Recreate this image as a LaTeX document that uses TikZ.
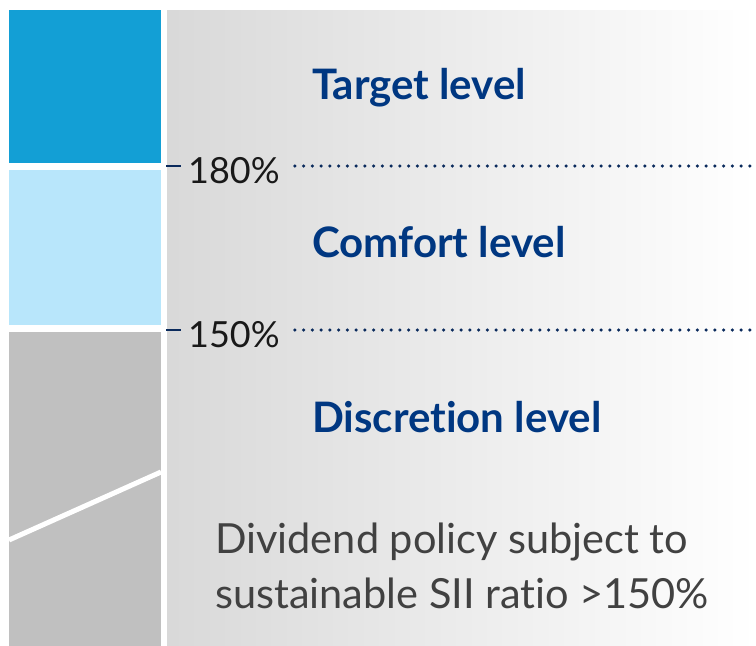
\documentclass[tikz,border=0pt]{standalone}
\usepackage{fontspec}
\setmainfont{Lato}[Ligatures=NoCommon]
\usetikzlibrary{positioning}

\definecolor{targetblue}{HTML}{139FD5}
\definecolor{comfortblue}{HTML}{B8E6FB}
\definecolor{discretiongray}{HTML}{C0C0C0}
\definecolor{levelnavy}{HTML}{003781}
\definecolor{ticknavy}{HTML}{0A2A5C}
\definecolor{bodygray}{HTML}{414141}

\tikzset{
  levelname/.style={anchor=base west,inner sep=0pt,text=levelnavy,
    font=\fontsize{42}{48}\selectfont\bfseries},
  pct/.style={anchor=base west,inner sep=0pt,text=black!90,
    font=\fontsize{36}{42}\selectfont},
  tickmark/.style={ticknavy,line width=2pt},
  dotline/.style={ticknavy,line width=3.5pt,line cap=round,
    dash pattern=on 0pt off 8.75pt}
}

\begin{document}
\begin{tikzpicture}[x=1pt,y=-1pt]
 \useasboundingbox (0,0) rectangle (756,646);
 % backdrop
 \shade[left color=black!15,right color=white] (167,10) rectangle (756,646);
 % the three bands
 \fill[targetblue] (9,10) rectangle (161,163);
 \fill[comfortblue] (9,170) rectangle (161,325);
 \fill[discretiongray] (9,332) rectangle (161,646);
 \draw[white,line width=5pt] (9,540) -- (161,472);
 % thresholds
 \coordinate (t180) at (166,166);
 \coordinate (t150) at (166,330);
 \node[pct] (p180) at (188,183) {180\%};
 \node[pct] (p150) at (188,347) {150\%};
 \coordinate (e180) at (756,166);
 \coordinate (e150) at (756,330);
 \draw[tickmark] (t180) -- ++(15,0);
 \draw[tickmark] (t150) -- ++(15,0);
 \draw[dotline] ([xshift=15pt]p180.east |- t180) -- (e180);
 \draw[dotline] ([xshift=15pt]p150.east |- t150) -- (e150);
 % level names
 \node[levelname] (target) at (312,99) {Target level};
 \node[levelname] (comfort) at (312,257) {Comfort level};
 \node[levelname] (discretion) at (312,432) {Discretion level};
 \node[anchor=north west,inner sep=0pt,align=left,text=bodygray,
   font=\fontsize{41.5}{55}\selectfont] (policy) at (215,523)
   {Dividend policy subject to\\sustainable SII ratio >150\%};
\end{tikzpicture}
\end{document}
